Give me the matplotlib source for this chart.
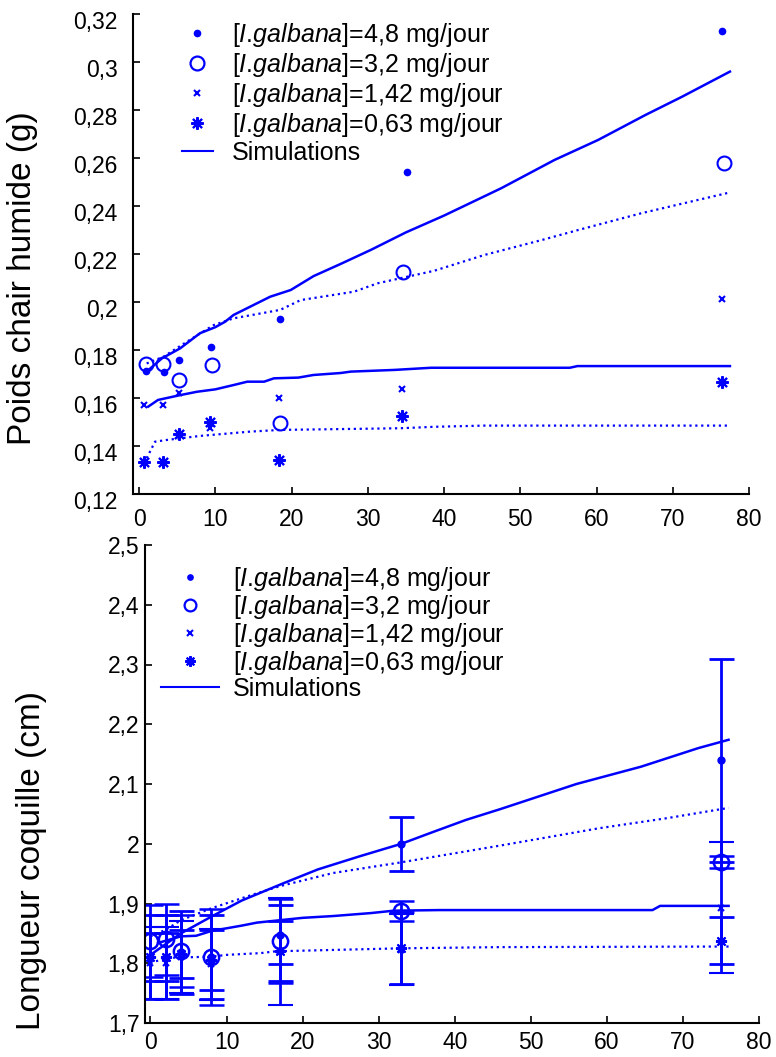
import matplotlib
matplotlib.use("Agg")
import matplotlib.pyplot as plt
import matplotlib.transforms as mtransforms
from matplotlib.lines import Line2D
from matplotlib.ticker import FuncFormatter

plt.rcParams['font.family'] = ['Liberation Sans', 'DejaVu Sans']
plt.rcParams['mathtext.fontset'] = 'custom'
plt.rcParams['mathtext.it'] = 'Liberation Sans:italic'
plt.rcParams['mathtext.rm'] = 'Liberation Sans'

labels = ['[$\\mathit{I}$.$\\mathit{galbana}$]=4,8 mg/jour',
          '[$\\mathit{I}$.$\\mathit{galbana}$]=3,2 mg/jour',
          '[$\\mathit{I}$.$\\mathit{galbana}$]=1,42 mg/jour',
          '[$\\mathit{I}$.$\\mathit{galbana}$]=0,63 mg/jour',
          'Simulations']

# --- poids chair humide (g), top panel ---
w_x48 = [0.9, 3.3, 5.3, 9.4, 18.5, 35.2, 76.4]
w_y48 = [0.1714, 0.1710, 0.1758, 0.1811, 0.1928, 0.2540, 0.3130]
w_x32 = [0.9, 3.2, 5.3, 9.6, 18.5, 34.6, 76.7]
w_y32 = [0.1742, 0.1742, 0.1675, 0.1737, 0.1497, 0.2124, 0.2580]
w_x142 = [0.7, 3.1, 5.3, 9.25, 18.4, 34.5, 76.5]
w_y142 = [0.1571, 0.1570, 0.1622, 0.1474, 0.1599, 0.1636, 0.2011]
w_x063 = [0.7, 3.2, 5.3, 9.3, 18.4, 34.5, 76.4]
w_y063 = [0.1335, 0.1335, 0.1450, 0.1501, 0.1342, 0.1525, 0.1668]

w_sim1_x = [1, 3, 5.4, 8, 10, 11.3, 12.4, 17.2, 19.9, 22.9, 26.4, 30.4, 35, 40,
            47.5, 54.5, 60.2, 66.4, 71.2, 77.5]
w_sim1_y = [0.171, 0.1765, 0.1807, 0.187, 0.1895, 0.1918, 0.1946, 0.2022, 0.205,
            0.2108, 0.2158, 0.2217, 0.229, 0.236, 0.2474, 0.2592, 0.2675, 0.2779,
            0.2855, 0.296]
w_sim2_x = [1, 3.2, 6.3, 9.8, 12.4, 18.5, 21.2, 28.2, 31.3, 38.7, 45.3, 52.8, 57.6,
            65.9, 77.3]
w_sim2_y = [0.1744, 0.1772, 0.1835, 0.1904, 0.1932, 0.1967, 0.2008, 0.2043, 0.2078,
            0.213, 0.2196, 0.2258, 0.23, 0.237, 0.2455]
w_sim3_x = [1.2, 2.5, 5.4, 7.6, 10, 12.4, 14.2, 16.4, 17.7, 20.9, 22.9, 26.4, 27.8,
            33.5, 38.3, 56.5, 57.5, 77.5]
w_sim3_y = [0.1564, 0.1592, 0.1612, 0.1626, 0.1636, 0.1654, 0.1668, 0.1668, 0.1682,
            0.1685, 0.1696, 0.1704, 0.171, 0.1717, 0.1726, 0.1726, 0.1733, 0.1733]
w_sim4_x = [1, 2.1, 3.6, 8, 14.6, 18.5, 34.3, 38.7, 45.3, 77.5]
w_sim4_y = [0.1349, 0.1418, 0.1425, 0.1442, 0.146, 0.1467, 0.1474, 0.148, 0.1485,
            0.1485]

# --- longueur coquille (cm), bottom panel ---
l_x = [0, 2, 4, 8, 17, 33, 75]
l_y48 = [1.810, 1.810, 1.818, 1.811, 1.848, 2.000, 2.140]
l_e48 = [0.07, 0.07, 0.07, 0.07, 0.05, 0.045, 0.17]
l_y32 = [1.837, 1.840, 1.820, 1.810, 1.837, 1.888, 1.969]
l_e32 = [0.06, 0.06, 0.06, 0.08, 0.07, 0.017, 0.01]
l_y142 = [1.800, 1.800, 1.810, 1.798, 1.820, 1.823, 1.893]
l_e142 = [0.06, 0.06, 0.06, 0.06, 0.09, 0.06, 0.11]
l_y063 = [1.810, 1.810, 1.815, 1.805, 1.820, 1.826, 1.838]
l_e063 = [0.04, 0.04, 0.04, 0.05, 0.05, 0.06, 0.04]

l_sim1_x = [0, 4, 8, 12, 17.5, 22, 27.5, 33, 37, 41.5, 46, 56, 64.5, 72, 76]
l_sim1_y = [1.814, 1.850, 1.878, 1.905, 1.934, 1.957, 1.979, 2.0, 2.019, 2.04,
            2.058, 2.10, 2.129, 2.16, 2.174]
l_sim2_x = [0, 2, 4, 8, 13, 17, 24, 33, 46, 59, 68, 76]
l_sim2_y = [1.845, 1.856, 1.872, 1.892, 1.913, 1.929, 1.951, 1.969, 1.997, 2.026,
            2.043, 2.06]
l_sim3_x = [1, 4, 6, 8, 12, 14, 20, 24, 29, 32, 38, 46, 66, 67, 76]
l_sim3_y = [1.834, 1.845, 1.846, 1.854, 1.863, 1.868, 1.876, 1.879, 1.884, 1.888,
            1.889, 1.889, 1.889, 1.896, 1.896]
l_sim4_x = [0, 2, 8, 10, 14.5, 16.5, 33, 46, 76]
l_sim4_y = [1.80, 1.809, 1.811, 1.814, 1.817, 1.82, 1.825, 1.827, 1.828]

blue = '#0000ff'
asterisk = (8, 2, 0)
comma = FuncFormatter(lambda v, p: f'{v:g}'.replace('.', ','))


def style_axes(ax, ypad, xpad):
    for s in ['top', 'right']:
        ax.spines[s].set_visible(False)
    ax.spines['left'].set_linewidth(1.5)
    ax.spines['bottom'].set_linewidth(1.5)
    ax.tick_params(direction='in', length=5, width=1.2, labelsize=16.5)
    ax.tick_params(axis='y', pad=ypad)
    ax.tick_params(axis='x', pad=xpad)
    ax.set_xticks(range(0, 81, 10))
    ax.yaxis.set_major_formatter(comma)


def legend_handles(ms_scale):
    return [
        Line2D([], [], ls='none', marker='o', color=blue, ms=4.5 * ms_scale),
        Line2D([], [], ls='none', marker='o', mfc='none', mec=blue, mew=1.6, ms=10 * ms_scale),
        Line2D([], [], ls='none', marker='x', color=blue, mew=1.5, ms=4.5 * ms_scale),
        Line2D([], [], ls='none', marker=asterisk, color=blue, mew=1.5, ms=9 * ms_scale),
        Line2D([], [], ls='-', color=blue, lw=1.5),
    ]


fig = plt.figure(figsize=(7.76, 10.57), dpi=100)

# top panel
ax1 = fig.add_axes([133 / 776, 1 - 494 / 1057, 616 / 776, 480 / 1057])
ax1.plot(w_x48, w_y48, 'o', color=blue, ms=4.5, ls='none')
ax1.plot(w_x32, w_y32, 'o', mfc='none', mec=blue, mew=1.5, ms=10, ls='none')
ax1.plot(w_x142, w_y142, 'x', color=blue, mew=1.5, ms=4.5, ls='none')
ax1.plot(w_x063, w_y063, marker=asterisk, color=blue, mew=1.5, ms=9, ls='none')
ax1.plot(w_sim1_x, w_sim1_y, '-', color=blue, lw=1.8)
ax1.plot(w_sim2_x, w_sim2_y, ':', color=blue, lw=1.6)
ax1.plot(w_sim3_x, w_sim3_y, '-', color=blue, lw=1.8)
ax1.plot(w_sim4_x, w_sim4_y, ':', color=blue, lw=1.6)
ax1.set_xlim(-0.79, 80)
ax1.set_ylim(0.12, 0.32)
ax1.set_yticks([0.12 + 0.02 * i for i in range(11)])
style_axes(ax1, 11, 10)
# tick labels sit a little below their ticks in the original
shift = mtransforms.ScaledTranslation(0, -4 / 72, fig.dpi_scale_trans)
for lab in ax1.get_yticklabels():
    lab.set_transform(lab.get_transform() + shift)
ax1.set_ylabel('Poids chair humide (g)', fontsize=24)
ax1.yaxis.set_label_coords(-0.155, 0.45)
ax1.legend(legend_handles(1.0), labels, loc='upper left', bbox_to_anchor=(0.063, 1.007),
           frameon=False, fontsize=18, handlelength=1.25, handletextpad=0.76,
           labelspacing=0.08, borderaxespad=0)

# bottom panel
ax2 = fig.add_axes([145 / 776, 1 - 1023 / 1057, 614 / 776, 478 / 1057])
ax2.errorbar(l_x, l_y48, yerr=l_e48, fmt='o', color=blue, ms=5, lw=2, capsize=9, capthick=2)
ax2.errorbar(l_x, l_y32, yerr=l_e32, fmt='o', mfc='none', mec=blue, mew=1.8, ms=11,
             color=blue, lw=2, capsize=9, capthick=2)
ax2.errorbar(l_x, l_y142, yerr=l_e142, fmt='x', color=blue, ms=5, mew=1.5, lw=2, capsize=9,
             capthick=2)
ax2.errorbar(l_x, l_y063, yerr=l_e063, fmt='none', color=blue, lw=2, capsize=9, capthick=2)
ax2.plot(l_x, l_y063, marker=asterisk, color=blue, ms=8, mew=1.5, ls='none')
ax2.plot(l_sim1_x, l_sim1_y, '-', color=blue, lw=1.8)
ax2.plot(l_sim2_x, l_sim2_y, ':', color=blue, lw=1.6)
ax2.plot(l_sim3_x, l_sim3_y, '-', color=blue, lw=1.8)
ax2.plot(l_sim4_x, l_sim4_y, ':', color=blue, lw=1.6)
ax2.set_xlim(-0.72, 80)
ax2.set_ylim(1.7, 2.5)
ax2.set_yticks([1.7 + 0.1 * i for i in range(9)])
style_axes(ax2, 4, 6)
ax2.set_ylabel('Longueur coquille (cm)', fontsize=24)
ax2.yaxis.set_label_coords(-0.16, 0.34)
ax2.legend(legend_handles(0.85), labels, loc='upper left', bbox_to_anchor=(0.01, 0.98),
           frameon=False, fontsize=18, handlelength=2.3, handletextpad=0.56,
           labelspacing=0.0, borderaxespad=0)

fig.savefig('out.png', dpi=100)
